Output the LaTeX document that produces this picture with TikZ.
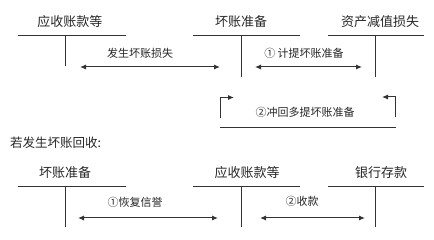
\documentclass[tikz,border=0pt]{standalone}
\usepackage{fontspec}
\setmainfont{Noto Sans CJK SC}
\usetikzlibrary{arrows.meta}
\begin{document}
\begin{tikzpicture}[x=1pt,y=-1pt,
  ttl/.style={font=\fontsize{13}{15}\selectfont,inner sep=0pt,text=black!85},
  lbl/.style={font=\fontsize{11}{13}\selectfont,inner sep=0pt,text=black!85},
  tline/.style={line width=1pt,draw=black!80},
  arr/.style={line width=1pt,draw=black!80,{Latex[length=6pt,width=5pt]}-{Latex[length=6pt,width=5pt]}},
  sarr/.style={line width=1pt,draw=black!80,-{Latex[length=6pt,width=5pt]}}]
\useasboundingbox (0,0) rectangle (434,240);
% top row
\node[ttl] (t1) at (70,22) {应收账款等};
\node[ttl] (t2) at (241,22) {坏账准备};
\node[ttl] (t3) at (380,22) {资产减值损失};
\draw[tline] (18,36) -- (126,36) (65,36) -- (65,66);
\draw[tline] (193,36) -- (300,36) (241,36) -- (241,77);
\draw[tline] (328,36) -- (424,36) (375,36) -- (375,77);
\coordinate (a1l) at (80,67); \coordinate (a1r) at (220,67);
\draw[arr] (a1l) -- (a1r);
\node[lbl] (l1) at (140,53) {发生坏账损失};
\coordinate (a2l) at (255,67); \coordinate (a2r) at (362,67);
\draw[arr] (a2l) -- (a2r);
\node[lbl] (l2) at (304,53) {① 计提坏账准备};
% bracket
\coordinate (bl) at (220,118); \coordinate (blt) at (220,97.5); \coordinate (bla) at (234,97.5);
\coordinate (br) at (395,117); \coordinate (brt) at (395,97); \coordinate (bra) at (382,97);
\draw[sarr] (bl) -- (blt) -- (bla);
\draw[sarr] (br) -- (brt) -- (bra);
\draw[tline] (220,128) -- (396,128);
\node[lbl] (l3) at (305,112) {②冲回多提坏账准备};
% bottom
\node[ttl,anchor=west,font=\fontsize{12.5}{15}\selectfont] (h) at (10,143) {若发生坏账回收:};
\node[ttl] (t4) at (65,173) {坏账准备};
\node[ttl] (t5) at (247,173) {应收账款等};
\node[ttl] (t6) at (381,173) {银行存款};
\draw[tline] (18,187) -- (126,187) (65,187) -- (65,227);
\draw[tline] (193,187) -- (300,187) (241,187) -- (241,227);
\draw[tline] (328,187) -- (424,187) (375,187) -- (375,227);
\coordinate (a4l) at (78,218); \coordinate (a4r) at (218,218);
\draw[arr] (a4l) -- (a4r);
\node[lbl] (l4) at (135,202) {①恢复信誉};
\coordinate (a5l) at (260,218); \coordinate (a5r) at (365,218);
\draw[arr] (a5l) -- (a5r);
\node[lbl] (l5) at (302,201) {②收款};
\end{tikzpicture}
\end{document}
